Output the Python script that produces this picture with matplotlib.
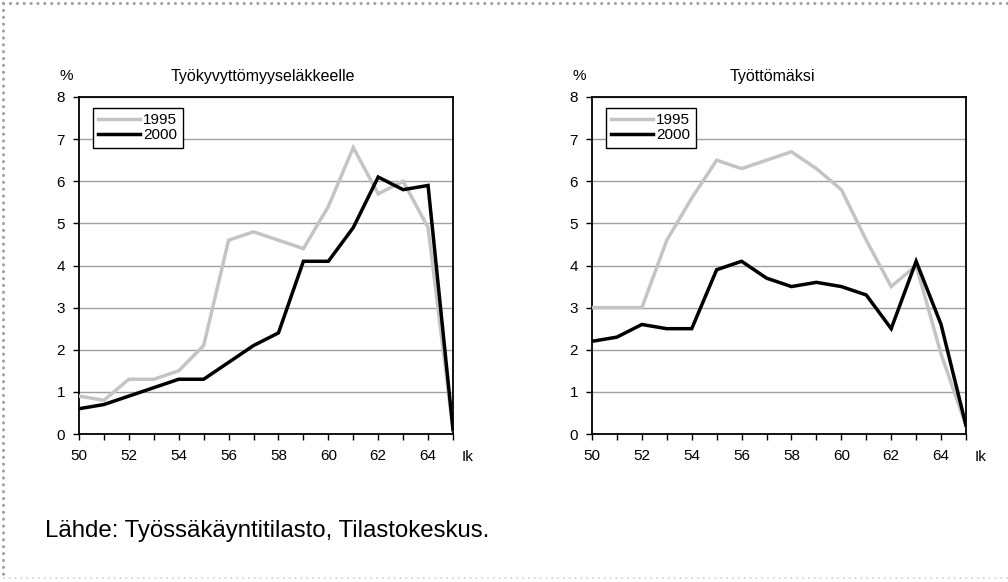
import matplotlib
matplotlib.use("Agg")
import matplotlib.pyplot as plt
from matplotlib.lines import Line2D

plt.rcParams['font.family'] = ['Liberation Sans', 'DejaVu Sans']

ages = list(range(50, 66))
tyokyv_1995 = [0.9, 0.8, 1.3, 1.3, 1.5, 2.1, 4.6, 4.8, 4.6, 4.4, 5.4, 6.8, 5.7, 6.0, 4.9, 0.1]
tyokyv_2000 = [0.6, 0.7, 0.9, 1.1, 1.3, 1.3, 1.7, 2.1, 2.4, 4.1, 4.1, 4.9, 6.1, 5.8, 5.9, 0.1]
tyott_1995 = [3.0, 3.0, 3.0, 4.6, 5.6, 6.5, 6.3, 6.5, 6.7, 6.3, 5.8, 4.6, 3.5, 4.0, 1.9, 0.2]
tyott_2000 = [2.2, 2.3, 2.6, 2.5, 2.5, 3.9, 4.1, 3.7, 3.5, 3.6, 3.5, 3.3, 2.5, 4.1, 2.6, 0.2]
series_labels = ["1995", "2000"]
titles = ["Työkyvyttömyyseläkkeelle", "Työttömäksi"]
xtick_labels = [50, 52, 54, 56, 58, 60, 62, 64]
yticks = list(range(0, 9))
source = "Lähde: Työssäkäyntitilasto, Tilastokeskus."

W, H = 1008, 582
fig = plt.figure(figsize=(W / 100, H / 100), dpi=100)

def px(x, y):
    return x / W, 1 - y / H

axes_rects = [(79, 97, 453, 434), (592, 97, 966, 434)]
title_x = [263, 772]
data = [(tyokyv_1995, tyokyv_2000), (tyott_1995, tyott_2000)]
fs = 11

for i, (x0, y0, x1, y1) in enumerate(axes_rects):
    ax = fig.add_axes([x0 / W, 1 - y1 / H, (x1 - x0) / W, (y1 - y0) / H])
    d95, d00 = data[i]
    ax.plot(ages, d95, color='#c4c4c4', lw=2.5, label=series_labels[0], solid_joinstyle='miter', zorder=3)
    ax.plot(ages, d00, color='black', lw=2.5, label=series_labels[1], solid_joinstyle='miter', zorder=4)
    ax.set_xlim(50, 65)
    ax.set_ylim(0, 8)
    ax.set_yticks(yticks)
    ax.set_xticks(ages)
    ax.set_xticklabels([str(a) if a in xtick_labels else '' for a in ages])
    ax.yaxis.grid(True, color='#a0a0a0', lw=1)
    ax.set_axisbelow(True)
    ax.tick_params(direction='out', length=4, width=1, labelsize=fs)
    ax.tick_params(axis='x', pad=7)
    ax.tick_params(axis='y', pad=6)
    for s in ax.spines.values():
        s.set_linewidth(1.3)
        s.set_color('black')
    leg = ax.legend(loc='upper left', bbox_to_anchor=(0.037, 0.967), fontsize=fs,
                    frameon=True, fancybox=False, edgecolor='black', framealpha=1,
                    handlelength=2.75, handletextpad=0.2, borderpad=0.35,
                    labelspacing=0.05, borderaxespad=0)
    leg.get_frame().set_linewidth(1.0)
    fx, fy = px(x1 + 14.5, 457)
    fig.text(fx, fy, "Ik", fontsize=fs, ha='center', va='center')
    fx, fy = px(x0 - 13, 76)
    fig.text(fx, fy, "%", fontsize=fs, ha='center', va='center')
    fx, fy = px(title_x[i], 76)
    fig.text(fx, fy, titles[i], fontsize=11.5, ha='center', va='center')

fx, fy = px(45, 531)
fig.text(fx, fy, source, fontsize=17.3, ha='left', va='center')

# dotted frame
dot = (0, (0.05, 2.2))
fig.add_artist(Line2D([3 / W, 1], [1 - 3 / H, 1 - 3 / H], transform=fig.transFigure,
                      color='#a0a0a0', lw=2.2, linestyle=dot, dash_capstyle='round'))
fig.add_artist(Line2D([3 / W, 3 / W], [1 - 3 / H, 1 - 577 / H], transform=fig.transFigure,
                      color='#a0a0a0', lw=2.2, linestyle=dot, dash_capstyle='round'))
fig.add_artist(Line2D([3 / W, 1], [1 - 578 / H, 1 - 578 / H], transform=fig.transFigure,
                      color='#d0d0d0', lw=1.2, linestyle=(0, (1, 2.5))))

fig.savefig("out.png", dpi=100)
